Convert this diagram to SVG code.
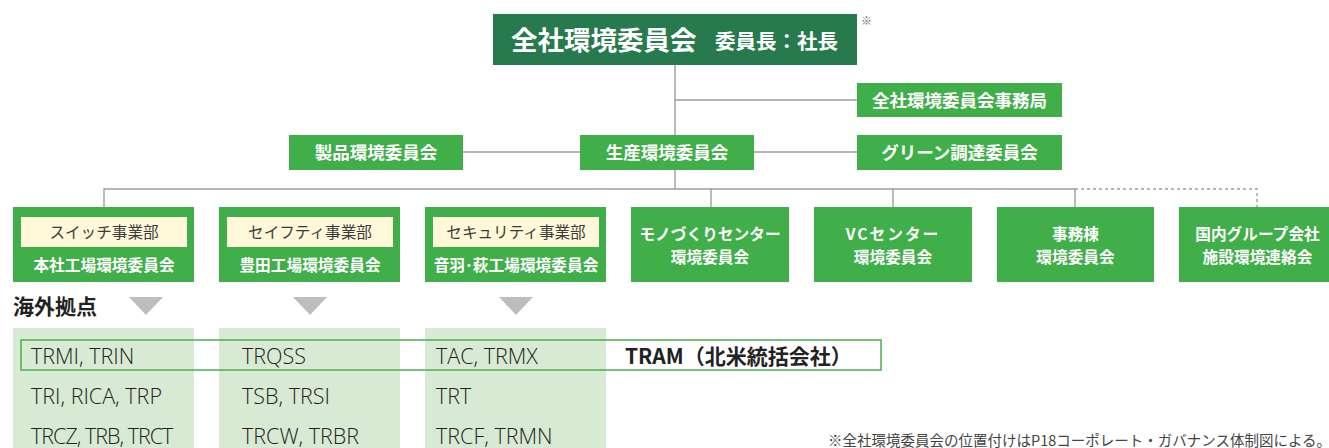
<svg xmlns="http://www.w3.org/2000/svg" width="1329" height="448" viewBox="0 0 1329 448">
<style>
.jp{font-family:"Noto Sans CJK JP","Noto Sans",sans-serif}
.box{fill:#40AE49}
.top{fill:#267A4E}
.wt{fill:#fff;font-weight:bold;font-size:17.5px;text-anchor:middle}
.wt2{fill:#fff;font-weight:bold;font-size:15.7px;text-anchor:middle}
.cream{fill:#FFF9D9}
.ct{fill:#3a3a3a;font-size:15.6px;text-anchor:middle}
.col{fill:#D8EAD3}
.ov{font-family:"Open Sans","Liberation Sans",sans-serif;font-weight:300;font-size:21.5px;fill:#222}
.ln{stroke:#9d9d9d;stroke-width:1.4;fill:none}
.dash{stroke:#9d9d9d;stroke-width:1.4;fill:none;stroke-dasharray:3 3}
.tri{fill:#BDBDC0}
</style>
<rect width="1329" height="448" fill="#fff"/>
<g id="connectors">
<line class="ln" x1="675" y1="65" x2="675" y2="189"/>
<line class="ln" x1="675" y1="100" x2="857" y2="100"/>
<line class="ln" x1="463" y1="152" x2="580" y2="152"/>
<line class="ln" x1="754" y1="152" x2="857" y2="152"/>
<polyline class="ln" points="104,207 104,189 1075,189"/>
<line class="ln" x1="711" y1="189" x2="711" y2="207"/>
<line class="ln" x1="893" y1="189" x2="893" y2="207"/>
<line class="ln" x1="1075" y1="189" x2="1075" y2="207"/>
<polyline class="dash" points="1075,189 1257,189 1257,207"/>
</g>
<g id="top">
<rect class="top" x="493" y="14" width="364" height="51"/>
<text class="jp" x="511" y="50" fill="#fff" font-weight="bold" font-size="26.5">全社環境委員会</text>
<text class="jp" x="715" y="49" fill="#fff" font-weight="bold" font-size="20.5">委員長：社長</text>
<text class="jp" x="861" y="25" fill="#666" font-size="11">※</text>
</g>
<g id="secretariat">
<rect class="box" x="857" y="83" width="205" height="34"/>
<text class="jp wt" x="959.5" y="106.5">全社環境委員会事務局</text>
</g>
<g id="product">
<rect class="box" x="289" y="135" width="174" height="35"/>
<text class="jp wt" x="376" y="159">製品環境委員会</text>
</g>
<g id="production">
<rect class="box" x="580" y="135" width="174" height="35"/>
<text class="jp wt" x="667" y="159">生産環境委員会</text>
</g>
<g id="green">
<rect class="box" x="857" y="135" width="205" height="35"/>
<text class="jp wt" x="959.5" y="159">グリーン調達委員会</text>
</g>
<g id="switch">
<rect class="box" x="13" y="207" width="181" height="75"/>
<rect class="cream" x="21" y="217" width="166" height="30"/>
<text class="jp ct" x="104" y="237.5">スイッチ事業部</text>
<text class="jp wt2" x="104" y="270.5">本社工場環境委員会</text>
</g>
<g id="safety">
<rect class="box" x="219" y="207" width="181" height="75"/>
<rect class="cream" x="227" y="217" width="166" height="30"/>
<text class="jp ct" x="310" y="237.5">セイフティ事業部</text>
<text class="jp wt2" x="310" y="270.5">豊田工場環境委員会</text>
</g>
<g id="security">
<rect class="box" x="425" y="207" width="181" height="75"/>
<rect class="cream" x="433" y="217" width="166" height="30"/>
<text class="jp ct" x="516" y="237.5">セキュリティ事業部</text>
<text class="jp wt2" x="516" y="270.5">音羽･萩工場環境委員会</text>
</g>
<g id="monozukuri">
<rect class="box" x="631" y="207" width="158" height="75"/>
<text class="jp wt2" x="710" y="240">モノづくりセンター</text>
<text class="jp wt2" x="710" y="263">環境委員会</text>
</g>
<g id="vc">
<rect class="box" x="814" y="207" width="158" height="75"/>
<text class="jp wt2" x="893" y="240" letter-spacing="2">VCセンター</text>
<text class="jp wt2" x="893" y="263">環境委員会</text>
</g>
<g id="office">
<rect class="box" x="997" y="207" width="157" height="75"/>
<text class="jp wt2" x="1075.5" y="240">事務棟</text>
<text class="jp wt2" x="1075.5" y="263">環境委員会</text>
</g>
<g id="domestic">
<rect class="box" x="1179" y="207" width="157" height="75"/>
<text class="jp wt2" x="1257.5" y="240">国内グループ会社</text>
<text class="jp wt2" x="1257.5" y="263">施設環境連絡会</text>
</g>
<g id="overseas-label">
<text class="jp" x="13" y="314" font-size="21" font-weight="bold" fill="#222">海外拠点</text>
<polygon class="tri" points="129,297 163,297 146,315"/>
<polygon class="tri" points="293,297 327,297 310,315"/>
<polygon class="tri" points="499,297 533,297 516,315"/>
</g>
<g id="overseas-switch">
<rect class="col" x="13" y="328" width="181" height="120"/>
<text class="ov" x="31" y="364">TRMI, TRIN</text>
<text class="ov" x="31" y="404">TRI, RICA, TRP</text>
<text class="ov" x="31" y="444" letter-spacing="-1">TRCZ, TRB, TRCT</text>
</g>
<g id="overseas-safety">
<rect class="col" x="219" y="328" width="181" height="120"/>
<text class="ov" x="242" y="364">TRQSS</text>
<text class="ov" x="242" y="404">TSB, TRSI</text>
<text class="ov" x="242" y="444">TRCW, TRBR</text>
</g>
<g id="overseas-security">
<rect class="col" x="425" y="328" width="181" height="120"/>
<text class="ov" x="436" y="364">TAC, TRMX</text>
<text class="ov" x="436" y="404">TRT</text>
<text class="ov" x="436" y="444">TRCF, TRMN</text>
</g>
<g id="tram">
<rect x="21" y="340" width="860" height="30" fill="none" stroke="#4CB050" stroke-width="1.5"/>
<text class="jp" x="625" y="364" font-size="21" font-weight="bold" fill="#222">TRAM（北米統括会社）</text>
</g>
<text class="jp" x="828" y="446" font-size="14.5" fill="#444">※全社環境委員会の位置付けはP18コーポレート・ガバナンス体制図による。</text>
</svg>
